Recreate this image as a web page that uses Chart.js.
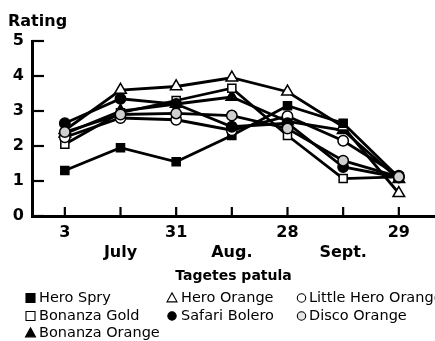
<!DOCTYPE html>
<html><head><meta charset="utf-8">
<style>html,body{margin:0;padding:0;background:#fff;overflow:hidden}#wrap{width:435px;height:341px;position:relative}</style>
</head><body>
<div id="wrap"><canvas id="c" width="435" height="341"></canvas></div>
<script src="https://cdn.jsdelivr.net/npm/chart.js@4/dist/chart.umd.min.js"></script>
<script>
// ---- data ----
const categories = ["July 3","July 17","July 31","Aug. 14","Aug. 28","Sept. 11","Sept. 29"];
const dayLabels = ["3","","31","","28","","29"];
const monthLabels = ["","July","","Aug.","","Sept.",""];
const yTicks = [0,1,2,3,4,5];
const heroSpry        = [1.3, 1.95, 1.55, 2.3, 3.15, 2.65, 1.1];
const bonanzaGold     = [2.05, 2.95, 3.3, 3.65, 2.3, 1.07, 1.12];
const bonanzaOrange   = [2.35, 3.0, 3.2, 3.4, 2.7, 2.45, 1.05];
const heroOrange      = [2.45, 3.6, 3.7, 3.95, 3.55, 2.55, 0.65];
const safariBolero    = [2.65, 3.35, 3.2, 2.55, 2.65, 1.4, 1.1];
const littleHeroOrange= [2.25, 2.8, 2.75, 2.45, 2.85, 2.15, 1.15];
const discoOrange     = [2.4, 2.9, 2.93, 2.87, 2.5, 1.58, 1.12];
const seriesNames = ["Hero Spry","Bonanza Gold","Bonanza Orange","Hero Orange","Safari Bolero","Little Hero Orange","Disco Orange"];
const axisTitle = "Tagetes patula";
const yTitle = "Rating";

const FONT = '"DejaVu Sans", sans-serif';
const GRAY = '#cfcfcf';
function pts(arr){ return arr.map((v,i)=>({x:i,y:v})); }

const styles = [
  {style:'rect', fill:'#000', r:5.7, order:5},
  {style:'rect', fill:'#fff', r:5.7, order:4},
  {style:'triangle', fill:'#000', r:6.7, order:7},
  {style:'triangle', fill:'#fff', r:6.7, order:6},
  {style:'circle', fill:'#000', r:5.2, order:2},
  {style:'circle', fill:'#fff', r:5.2, order:3},
  {style:'circle', fill:GRAY, r:5.2, order:1}
];
const seriesData = [heroSpry,bonanzaGold,bonanzaOrange,heroOrange,safariBolero,littleHeroOrange,discoOrange];

const datasets = seriesData.map((d,k)=>({
  label: seriesNames[k],
  data: pts(d),
  borderColor:'#000', borderWidth:2.8, tension:0,
  pointStyle: styles[k].style, pointRadius: styles[k].r, pointHoverRadius: styles[k].r,
  pointBackgroundColor: styles[k].fill, pointBorderColor:'#000', pointBorderWidth:1.5,
  order: styles[k].order, fill:false, clip:false
}));

// legend placement (layout only)
const legendCols = [{mx:30.5, tx:39},{mx:172, tx:181},{mx:301.5, tx:309}];
const legendRows = [298, 316, 333];
const legendPos = [[0,0],[0,1],[0,2],[1,0],[1,1],[2,0],[2,1]];

function drawMarker(ctx, style, fill, x, y, s){
  ctx.beginPath();
  if (style==='rect'){ ctx.rect(x-s/2, y-s/2, s, s); }
  else if (style==='triangle'){ const h=s*0.95; ctx.moveTo(x, y-h*0.6); ctx.lineTo(x+s/2+0.5, y+h*0.45); ctx.lineTo(x-s/2-0.5, y+h*0.45); ctx.closePath(); }
  else { ctx.arc(x, y, s/2-0.3, 0, Math.PI*2); }
  ctx.fillStyle = fill; ctx.fill();
  ctx.lineWidth = 1.1; ctx.strokeStyle='#000'; ctx.stroke();
}

const custom = {
  id:'custom',
  beforeDatasetsDraw(chart){
    const ctx = chart.ctx, xs = chart.scales.x, ys = chart.scales.y;
    ctx.save();
    ctx.strokeStyle='#000'; ctx.lineWidth=2.2;
    xs.ticks.forEach(t=>{ const px=xs.getPixelForValue(t.value); ctx.beginPath(); ctx.moveTo(px, ys.bottom); ctx.lineTo(px, ys.bottom-9); ctx.stroke(); });
    ys.ticks.forEach(t=>{ const py=ys.getPixelForValue(t.value); ctx.beginPath(); ctx.moveTo(xs.left, py); ctx.lineTo(xs.left+12, py); ctx.stroke(); });
    ctx.restore();
  },
  afterDraw(chart){
    const ctx = chart.ctx;
    ctx.save();
    ctx.fillStyle='#000';
    ctx.font = 'bold 16px ' + FONT;
    ctx.textBaseline='alphabetic'; ctx.textAlign='left';
    ctx.fillText(yTitle, 8, 26);
    ctx.font = '14.5px ' + FONT;
    ctx.textBaseline='middle';
    seriesNames.forEach((n,k)=>{
      const [c,r] = legendPos[k];
      const y = legendRows[r];
      drawMarker(ctx, styles[k].style, styles[k].fill === GRAY ? '#e4e4e4' : styles[k].fill, legendCols[c].mx, y, 9);
      ctx.fillStyle='#000';
      ctx.fillText(n, legendCols[c].tx, y+0.5);
    });
    ctx.restore();
  }
};

new Chart(document.getElementById('c'), {
  type:'line',
  data:{ datasets },
  options:{
    responsive:false, animation:false,
    layout:{ autoPadding:false, padding:{ top:41, bottom:56, left:0, right:0 } },
    plugins:{ legend:{display:false}, title:{display:false}, tooltip:{enabled:false} },
    scales:{
      x:{
        type:'linear', min:-0.59, max:6.65,
        afterBuildTicks(s){ s.ticks = categories.map((_,i)=>({value:i})); },
        afterFit(s){ s.height = 69; s.paddingLeft = 0; s.paddingRight = 0; },
        grid:{display:false, drawTicks:false},
        border:{display:true, color:'#000', width:3},
        ticks:{ autoSkip:false, maxRotation:0, padding:7, color:'#000',
          font:{family:FONT, weight:'bold', size:16, lineHeight:1.25},
          callback(v){ const i=Math.round(v); return [dayLabels[i], monthLabels[i]]; } },
        title:{ display:true, text:axisTitle, color:'#000', font:{family:FONT, weight:'bold', size:14, lineHeight:1.2}, padding:{top:0,bottom:0} }
      },
      y:{
        min:0, max:5,
        afterBuildTicks(s){ s.ticks = yTicks.map(v=>({value:v})); },
        afterFit(s){ s.width = 32; s.paddingTop = 0; s.paddingBottom = 0; },
        grid:{display:false, drawTicks:false},
        border:{display:true, color:'#000', width:3},
        ticks:{ padding:8, color:'#000', font:{family:FONT, weight:'bold', size:16} }
      }
    }
  },
  plugins:[custom]
});
</script>
</body></html>
